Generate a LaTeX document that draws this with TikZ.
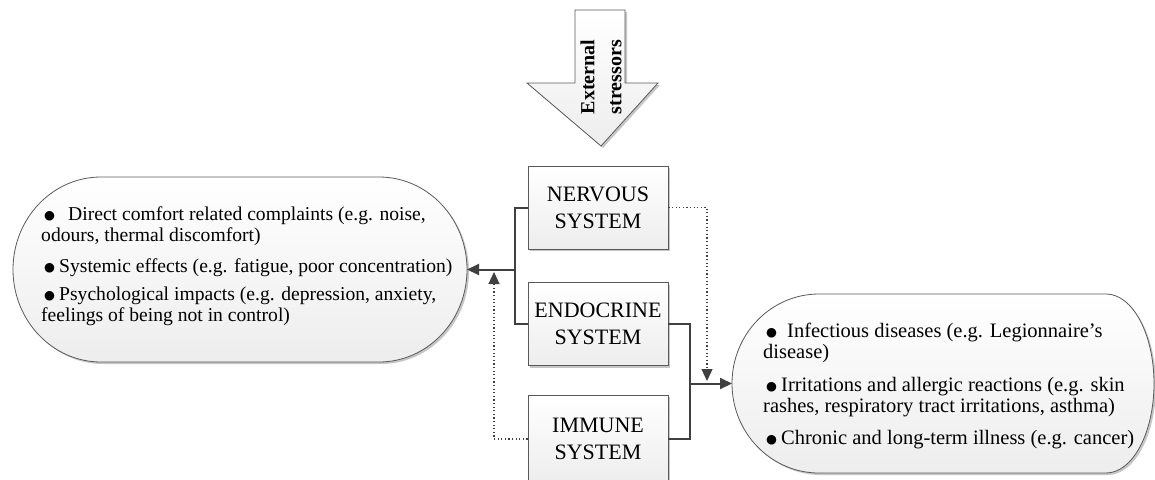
\documentclass[tikz,border=0pt]{standalone}
\usepackage{fontspec}
\setmainfont{Liberation Serif}
\newfontfamily\symfont{DejaVu Sans}
\usetikzlibrary{arrows.meta,shadows}
\definecolor{boxline}{HTML}{5A5A5A}
\definecolor{linkgray}{HTML}{404040}
% list bullet: small indent, filled dot, tight gap before the text
\newcommand\blt{\hspace*{3pt}\makebox[13pt][l]{\raisebox{1pt}{\symfont\fontsize{12.5}{12.5}\selectfont ●}}}

\tikzset{
  shade fill/.style={top color=white, bottom color=gray!14},
  soft shadow/.style={drop shadow={shadow xshift=2pt, shadow yshift=-2pt, fill=gray!45, opacity=1}},
  sysbox/.style={draw=boxline, line width=0.8pt, shade fill, soft shadow,
    minimum width=140pt, minimum height=83pt, inner sep=0pt, align=center,
    font=\fontsize{22}{27}\selectfont},
  effect/.style={draw=boxline, line width=0.8pt, shade fill, soft shadow},
  effecttext/.style={align=left, inner sep=0pt},
  stressarrow/.style={draw=boxline, line width=0.8pt, shade fill, soft shadow},
  link/.style={draw=linkgray, line width=2pt},
  linkarrow/.style={link, -{Triangle[length=12pt,width=11pt]}},
  hint/.style={draw=linkgray, line width=1.2pt, dash pattern=on 1.2pt off 2.4pt,
    -{Triangle[length=12pt,width=11pt]}}
}

\begin{document}
\begin{tikzpicture}[x=1pt, y=-1pt]
\clip (0,0) rectangle (1155,479);

% incoming stressors
\path[stressarrow] (575,10) -- (625,10) -- (625,83) -- (658,83) -- (601,146)
  -- (527,83) -- (575,83) -- cycle;
\node[rotate=90, align=center, inner sep=0pt, font=\bfseries\fontsize{20}{27}\selectfont]
  (stress) at (601,77) {External\\stressors};

% the three body systems
\node[sysbox] (nerv) at (598,207.5) {NERVOUS\\SYSTEM};
\node[sysbox] (endo) at (598,324) {ENDOCRINE\\SYSTEM};
\node[sysbox, minimum height=88pt] (imm) at (598,439) {IMMUNE\\SYSTEM};

% outcome groups: flat top and bottom, elliptical ends
\path[effect] (101,177) -- (379,177)
  arc[start angle=90, end angle=-90, x radius=88pt, y radius=92.5pt]
  -- (101,362)
  arc[start angle=270, end angle=90, x radius=88pt, y radius=92.5pt] -- cycle;
\coordinate (mind) at (467,269.5);

\path[effect] (819,294) -- (1106,294)
  arc[start angle=90, end angle=-90, x radius=48pt, y radius=89.5pt]
  -- (819,473)
  arc[start angle=270, end angle=90, x radius=87pt, y radius=89.5pt] -- cycle;
\coordinate (body) at (732,383.5);

\node[effecttext, anchor=west, font=\fontsize{19.6}{21}\selectfont] (mindtext) at (41,266) {%
  \blt\hspace{11pt}Direct comfort related complaints (e.g. noise,\\
  odours, thermal discomfort)\\[10pt]
  \blt\hspace{2pt}Systemic effects (e.g. fatigue, poor concentration)\\[7pt]
  \blt\hspace{2pt}Psychological impacts (e.g. depression, anxiety,\\
  feelings of being not in control)};

\node[effecttext, anchor=west, font=\fontsize{20.5}{21}\selectfont] (bodytext) at (763,386) {%
  \blt\hspace{8pt}Infectious diseases (e.g. Legionnaire’s\\
  disease)\\[12pt]
  \blt\hspace{2pt}Irritations and allergic reactions (e.g. skin\\
  rashes, respiratory tract irritations, asthma)\\[11pt]
  \blt\hspace{2pt}Chronic and long-term illness (e.g. cancer)};

% connectors
\coordinate (jl) at (515,269.5);
\coordinate (jr) at (690,383.5);
\coordinate (dn) at (707,381);
\coordinate (up) at (494,272);

\draw[link] (nerv.west) -- (jl |- nerv.west) -- (jl |- endo.west) -- (endo.west);
\draw[linkarrow] (jl) -- (mind);
\draw[link] (endo.east) -- (jr |- endo.east) -- (jr |- imm.east) -- (imm.east);
\draw[linkarrow] (jr) -- (body);

\draw[hint] (nerv.east) -- (dn |- nerv.east) -- (dn);
\draw[hint] (imm.west) -- (up |- imm.west) -- (up);
\end{tikzpicture}
\end{document}
